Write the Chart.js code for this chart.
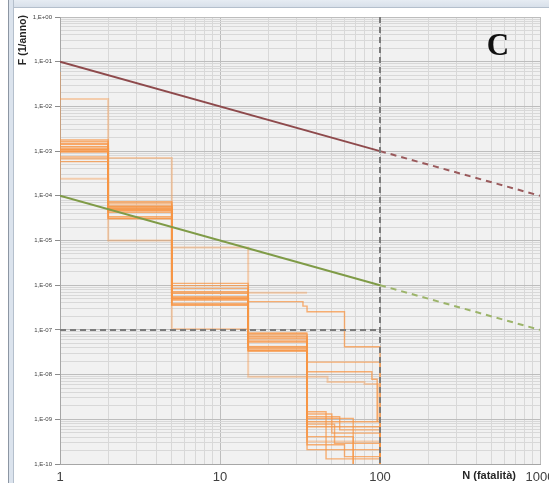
<!DOCTYPE html>
<html>
<head>
<meta charset="utf-8">
<script src="https://cdn.jsdelivr.net/npm/chart.js@4/dist/chart.umd.min.js"></script>
<style>
  body { margin: 0; background: #ffffff; width: 549px; height: 483px; overflow: hidden; position: relative; }
  #topStrip { position: absolute; left: 9px; top: 0; width: 540px; height: 7px;
              background: linear-gradient(#e6ecf3, #d8e0ea); border-bottom: 1px solid #b4bfcc; }
  #leftStrip { position: absolute; left: 8px; top: 0; width: 4px; height: 483px;
               background: #dbe3ed; border-left: 1px solid #8c96a3; border-right: 1px solid #b4bfcc; }
  #fnChart { position: absolute; left: 0; top: 0; }
</style>
</head>
<body>
<div id="topStrip"></div>
<div id="leftStrip"></div>
<canvas id="fnChart" width="549" height="483"></canvas>

<script>
// ---- data ----
const yTitle = 'F (1/anno)';
const xTitle = 'N (fatalità)';
const panelLetter = 'C';
const xTickLabels = ['1', '10', '100', '1000'];
const yTickLabels = ['1,E-10', '1,E-09', '1,E-08', '1,E-07', '1,E-06', '1,E-05',
                     '1,E-04', '1,E-03', '1,E-02', '1,E-01', '1,E+00'];

// criterion lines (N, F)
const upperN = [1, 100],     upperF = [1e-1, 1e-3];
const upperExtN = [100, 1000], upperExtF = [1e-3, 1e-4];
const lowerN = [1, 100],     lowerF = [1e-4, 1e-6];
const lowerExtN = [100, 1000], lowerExtF = [1e-6, 1e-7];
const limitHN = [1, 100],    limitHF = [1e-7, 1e-7];
const limitVN = [100, 100],  limitVF = [1, 1e-10];

// scenario F-N step curves: [N from which F applies, F]; last entry = end N (and drop level)
const scenarioSteps = [
  [[1,1.77e-3],[2,7.4e-5],[5,1.10e-6],[15,8.4e-8],[35,1.48e-9],[46,1.3e-10],[100,1e-11]],
  [[1,1.62e-3],[2,6.9e-5],[5,9.8e-7],[15,7.7e-8],[35,1.31e-9],[50,4.9e-10],[100,1e-11]],
  [[1,1.44e-3],[2,6.2e-5],[5,8.5e-7],[15,7.0e-8],[35,1.14e-9],[56,5.8e-10],[100,1e-11]],
  [[1,1.25e-3],[2,5.7e-5],[5,7.2e-7],[15,6.5e-8],[35,1.05e-9],[68,1e-11]],
  [[1,1.11e-3],[2,5.2e-5],[5,6.6e-7],[15,5.9e-8],[35,8.8e-10],[100,1e-11]],
  [[1,1.06e-3],[2,4.8e-5],[5,5.5e-7],[15,5.4e-8],[35,7.8e-10],[52,2.9e-10],[100,1e-11]],
  [[1,9.7e-4],[2,4.6e-5],[5,5.1e-7],[15,4.2e-8],[35,6.8e-10],[100,1e-11]],
  [[1,7.4e-4],[2,3.4e-5],[5,3.9e-7],[15,3.9e-8],[35,4.1e-10],[68,1e-11]],
  [[1,6.7e-4],[2,3.1e-5],[5,3.6e-7],[15,3.5e-8],[35,2.1e-10],[100,1e-11]],
  [[1,5.8e-4],[2,3.1e-5],[5,3.6e-7],[15,3.3e-8],[35,2.7e-10],[60,1.46e-10],[100,1e-11]],
  [[1,1.06e-3],[2,4.8e-5],[5,4.7e-7],[15,5.4e-8],[35,1.9e-8],[100,1e-11]],
  [[1,9.7e-4],[2,4.3e-5],[5,5.1e-7],[15,3.5e-8],[35,1.16e-8],[89,7.9e-9],[96,8.8e-10]],
  [[1,1.44e-3],[2,5.7e-5],[5,4.7e-7],[15,4.3e-7],[33,3.4e-7],[35,2.55e-7],[60,4.2e-8],[100,1e-11]],
  [[1,1.11e-3],[2,5.2e-5],[5,6.8e-7],[35]],
  [[1,1.47e-2],[2,7.0e-4],[5,7.0e-6],[15,9.0e-9],[47,6.8e-9],[80,6.2e-9],[97,8.8e-10]],
  [[1,5.9e-2],[1,2.4e-4],[2,1.0e-5],[5,1.05e-7],[15,8.4e-8],[35]],
  [[1,1.25e-3],[2,5.2e-5],[5,5.1e-7],[15,4.2e-8],[35,3.2e-10],[100,1e-11]]
];
const faintScenarios = [13, 14, 15, 16];

// ---- helpers ----
function pairs(xs, ys) { return xs.map((x, i) => ({x: x, y: ys[i]})); }

function stepPoints(steps) {
  const pts = [];
  for (let i = 0; i < steps.length - 1; i++) {
    pts.push({x: steps[i][0], y: steps[i][1]});
    pts.push({x: steps[i + 1][0], y: steps[i][1]});
  }
  const last = steps[steps.length - 1];
  if (last.length > 1) pts.push({x: last[0], y: last[1]});
  return pts;
}

function logTicks(lo, hi) {
  const t = [];
  for (let e = lo; e < hi; e++) {
    for (let m = 1; m <= 9; m++) t.push({value: Number((m * Math.pow(10, e)).toPrecision(12))});
  }
  t.push({value: Math.pow(10, hi)});
  return t;
}
function isDecade(v) {
  const l = Math.log10(v);
  return Math.abs(l - Math.round(l)) < 1e-9;
}

// ---- datasets ----
const datasets = [];
const line = (data, color, width, dash, order) => ({
  data: data, showLine: true, borderColor: color, borderWidth: width,
  borderDash: dash, pointRadius: 0, fill: false, order: order
});

datasets.push(line(pairs(limitVN, limitVF), '#7a7a7a', 2, [6, 4], 0));
datasets.push(line(pairs(limitHN, limitHF), '#7a7a7a', 2, [6, 4], 0));
datasets.push(line(pairs(upperN, upperF), '#8e4a4c', 2, [], 1));
datasets.push(line(pairs(upperExtN, upperExtF), '#9a5a5c', 2, [6, 5], 1));
datasets.push(line(pairs(lowerN, lowerF), '#7f9b47', 2, [], 1));
datasets.push(line(pairs(lowerExtN, lowerExtF), '#9cb46a', 2, [6, 5], 1));

scenarioSteps.forEach((s, i) => {
  const faint = faintScenarios.includes(i);
  datasets.push(line(stepPoints(s),
    faint ? 'rgba(247,150,70,0.40)' : 'rgba(247,150,70,0.75)',
    faint ? 2 : 1.4, [], 2));
});

// ---- plugins ----
const plotBackground = {
  id: 'plotBackground',
  beforeDraw(chart) {
    const a = chart.chartArea, c = chart.ctx;
    c.save();
    c.fillStyle = '#f1f1f1';
    c.fillRect(a.left, a.top, a.right - a.left, a.bottom - a.top);
    c.restore();
  }
};

const chartTexts = {
  id: 'chartTexts',
  afterDraw(chart) {
    const c = chart.ctx;
    c.save();
    c.fillStyle = '#262626';
    c.textBaseline = 'middle';
    c.textAlign = 'right';
    c.font = 'bold 11px "Liberation Sans", Arial, sans-serif';
    c.fillText(xTitle, 516, 476);
    c.font = 'bold 10.5px "Liberation Sans", Arial, sans-serif';
    c.translate(23, 15);
    c.rotate(-Math.PI / 2);
    c.fillText(yTitle, 0, 0);
    c.restore();

    c.save();
    c.fillStyle = '#111111';
    c.font = 'bold 31px "Liberation Serif", "DejaVu Serif", serif';
    c.textAlign = 'center';
    c.textBaseline = 'middle';
    c.fillText(panelLetter, 498, 47);
    c.restore();
  }
};

const gridColor = (ctx) => isDecade(ctx.tick.value) ? '#bdbdbd' : '#d8d8d8';

new Chart(document.getElementById('fnChart'), {
  type: 'scatter',
  data: { datasets: datasets },
  options: {
    responsive: false,
    animation: false,
    layout: { padding: { left: 0, right: 9, top: 17, bottom: 0 } },
    plugins: { legend: { display: false }, tooltip: { enabled: false } },
    scales: {
      x: {
        type: 'logarithmic', min: 1, max: 1000,
        afterBuildTicks(s) { s.ticks = logTicks(0, 3); },
        afterFit(s) { s.height = 19; s.paddingLeft = 0; s.paddingRight = 0; },
        border: { color: '#a6a6a6' },
        grid: { color: gridColor, drawTicks: false },
        ticks: {
          autoSkip: false, maxRotation: 0, padding: 6, color: '#404040',
          font: { family: '"Liberation Sans", Arial, sans-serif', size: 13 },
          callback: (v) => isDecade(v) ? xTickLabels[Math.round(Math.log10(v))] : ''
        }
      },
      y: {
        type: 'logarithmic', min: 1e-10, max: 1,
        afterBuildTicks(s) { s.ticks = logTicks(-10, 0); },
        afterFit(s) { s.width = 60; s.paddingTop = 0; s.paddingBottom = 0; },
        border: { color: '#a6a6a6' },
        grid: {
          color: gridColor, tickLength: 5,
          tickColor: (ctx) => isDecade(ctx.tick.value) ? '#8c8c8c' : 'rgba(0,0,0,0)'
        },
        ticks: {
          autoSkip: false, padding: 3, color: '#404040',
          font: { family: '"Liberation Sans", Arial, sans-serif', size: 6 },
          callback: (v) => isDecade(v) ? yTickLabels[Math.round(Math.log10(v)) + 10] : ''
        }
      }
    }
  },
  plugins: [plotBackground, chartTexts]
});
</script>
</body>
</html>
